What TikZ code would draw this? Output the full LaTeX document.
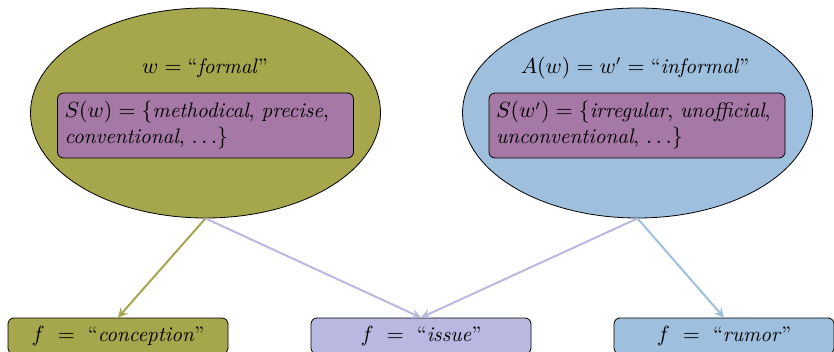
\documentclass[tikz,border=0pt]{standalone}
\usetikzlibrary{shapes.geometric,arrows.meta}
\definecolor{cOlive}{HTML}{A6A64C}
\definecolor{cBlue}{HTML}{9EC0DE}
\definecolor{cPurple}{HTML}{A578A5}
\definecolor{cLav}{HTML}{B8B8E0}
\tikzset{
  bigell/.style={ellipse, draw=black, minimum width=175pt, minimum height=105pt, inner sep=0pt},
  setbox/.style={draw=black, fill=cPurple, rounded corners=3pt, minimum width=148pt, minimum height=32.5pt, text width=141pt, align=left, inner sep=3.5pt},
  leafbox/.style={draw=black, rounded corners=3pt, minimum width=110pt, minimum height=18pt, inner sep=0pt},
  conn/.style={line width=1pt, -{Stealth[length=5pt,width=5pt,inset=2pt]}},
}
\begin{document}
\begin{tikzpicture}[x=0.5pt,y=-0.5pt, font=\fontsize{10.5}{13}\selectfont]
\useasboundingbox (0,0) rectangle (834,352);
\node[bigell, fill=cOlive] (L) at (205.5,113) {};
\node[bigell, fill=cBlue] (R) at (637.5,113) {};
\node (Lt) at (205,68) {$w = {}$``\textit{formal}''};
\node (Rt) at (635,68) {$A(w) = w' = {}$``\textit{informal}''};
\node[setbox] (Ls) at (205.5,125.5) {$S(w) = \{$\textit{methodical}, \textit{precise},\\\textit{conventional}, $\ldots\}$};
\node[setbox] (Rs) at (637,125.5) {$S(w') = \{$\textit{irregular}, \textit{unofficial},\\\textit{unconventional}, $\ldots\}$};
\node[leafbox, fill=cOlive] (cL) at (118,336) {$f\ =\ {}$``\textit{conception}''};
\node[leafbox, fill=cLav] (cM) at (421,336) {$f\ =\ {}$``\textit{issue}''};
\node[leafbox, fill=cBlue] (cR) at (724,336) {$f\ =\ {}$``\textit{rumor}''};
\draw[conn, draw=cOlive] (L.south) -- (cL.north);
\draw[conn, draw=cLav] (L.south) -- (cM.north);
\draw[conn, draw=cLav] (R.south) -- (cM.north);
\draw[conn, draw=cBlue] (R.south) -- (cR.north);
\end{tikzpicture}
\end{document}
